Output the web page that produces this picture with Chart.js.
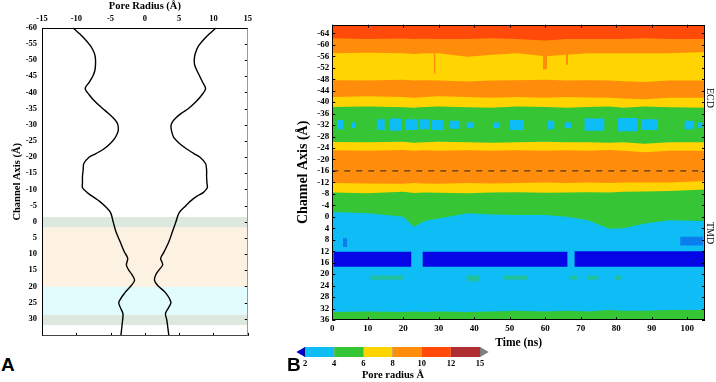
<!DOCTYPE html>
<html><head><meta charset="utf-8">
<script src="https://cdn.jsdelivr.net/npm/chart.js@4.4.1/dist/chart.umd.min.js"></script>
<style>
html,body{margin:0;padding:0;background:#fff;}
body{width:716px;height:382px;overflow:hidden;position:relative;}
canvas{position:absolute;display:block;}
.panel{position:absolute;font-family:"Liberation Sans",Arial,sans-serif;font-weight:bold;font-size:19px;line-height:19px;color:#000;}
.side{position:absolute;font-family:"Liberation Serif","Times New Roman",serif;font-size:10px;line-height:10px;writing-mode:vertical-rl;white-space:nowrap;color:#000;}
</style></head><body>
<canvas id="cA" width="256" height="346" style="left:0;top:0"></canvas>
<canvas id="cB" width="425" height="350" style="left:285px;top:0"></canvas>
<canvas id="cC" width="194" height="35" style="left:296px;top:347px"></canvas>
<div class="panel" style="left:1px;top:355px">A</div>
<div class="panel" style="left:287px;top:355px">B</div>
<div class="side" style="left:705px;top:88px">ECD</div>
<div class="side" style="left:705px;top:222px">TMD</div>
<script>
// ---------- Panel A data ----------
const PROFILE_Z = [-60,-57.3,-54.3,-52,-50.2,-48.5,-46.7,-45,-43.2,-41.2,
  -39.2,-37,-35.1,-33.5,-32.1,-30.8,-29.6,-28,-26.1,-24.3,
  -22.5,-21,-20,-18,-16,-14,-12,-10.5,-9,-7.9,
  -6.3,-4.8,-2.8,0.2,3.2,6.2,9.3,11.3,13.3,14.8,
  16.3,18.1,19.8,21.9,24.9,26.4,28.4,30.4,35.3];
const RADIUS_POS = [10.4,9.0,7.8,7.35,7.2,7.25,7.6,8.0,8.4,8.85,
  8.3,7.4,6.4,5.3,4.5,4.0,3.8,3.9,4.2,5.0,
  6.1,7.2,8.0,8.85,9.0,9.0,9.05,9.1,8.5,7.6,
  6.6,5.9,5.0,4.5,4.0,3.5,2.8,2.3,2.6,2.1,
  1.6,1.4,1.9,3.0,3.8,3.5,3.0,3.2,3.5];
const RADIUS_NEG = [-10.5,-9.1,-7.9,-7.35,-7.2,-7.2,-7.3,-7.6,-8.1,-8.7,
  -8.1,-7.2,-6.2,-5.3,-4.6,-4.1,-3.9,-3.9,-4.3,-5.0,
  -6.0,-7.2,-8.1,-8.9,-9.0,-9.1,-9.1,-9.1,-8.4,-7.7,
  -6.6,-5.8,-5.0,-4.6,-4.2,-3.6,-3.0,-2.5,-2.7,-2.4,
  -1.9,-1.5,-2.0,-2.9,-3.8,-3.6,-3.2,-3.25,-3.5];
const RADIUS_TICKS = [-15,-10,-5,0,5,10,15];
const AXIS_TICKS_A = [-60,-55,-50,-45,-40,-35,-30,-25,-20,-15,-10,-5,0,5,10,15,20,25,30];
const ZONE_FROM = [-1.5, 1.7, 20.1, 28.7];
const ZONE_TO = [1.7, 20.1, 28.7, 31.9];
const ZONE_COLORS = ['#dde8df', '#fdf1e2', '#e1fcfc', '#dde8df'];

// ---------- Panel B data ----------
const TIME = [0,10,20,23,26,30,38,45,52,60,66,72,78,82,88,95,105];
const TIME_TICKS = [0,10,20,30,40,50,60,70,80,90,100];
const CHANNEL_TICKS = [-64,-60,-56,-52,-48,-44,-40,-36,-32,-28,-24,-20,-16,-12,-8,-4,0,4,8,12,16,20,24,28,32,36];
const TOP_ORANGE_1 = [-62.3,-62,-62.2,-62,-62.1,-62,-62,-62.3,-62,-61.5,-62,-62,-62,-62,-62.3,-62,-62];
const TOP_YELLOW_1 = [-57,-57.2,-57,-56.8,-57,-57,-55.8,-56.5,-57,-56,-56.5,-57,-57,-57,-57,-57,-57.5];
const TOP_ORANGE_2 = [-47.6,-47.5,-47.8,-47.5,-47.6,-47.5,-47.2,-47.5,-47.6,-47.8,-47.5,-47.6,-47.5,-47.3,-47,-47.5,-47.5];
const TOP_YELLOW_2 = [-41.8,-42,-41.8,-41.5,-41.8,-42,-41.8,-41.5,-41.8,-41.5,-41.8,-41.6,-41.5,-41.3,-41,-41.5,-41.5];
const TOP_GREEN_1 = [-38.3,-38.5,-38.2,-38,-38.3,-38.5,-38.2,-38,-38.5,-38.3,-38,-38.3,-38.5,-38,-38.5,-38.2,-38];
const TOP_YELLOW_3 = [-26.1,-26,-26.2,-25.8,-26,-26.2,-26,-25.8,-26,-26.2,-26,-26,-25.8,-26,-25.5,-26,-26];
const TOP_ORANGE_3 = [-23.2,-23,-23.3,-23,-23.2,-23,-23.2,-23,-23.2,-23,-23.2,-23,-23.3,-23,-22.5,-23,-23];
const TOP_YELLOW_4 = [-11.8,-11.6,-11.5,-11.8,-11.6,-11.5,-11.8,-11.6,-11.8,-12,-11.8,-12,-11.8,-12,-12,-12,-12.5];
const TOP_GREEN_2 = [-8.5,-8.2,-8.7,-8.3,-8.5,-8.4,-8.2,-8.5,-8.6,-8.4,-8.5,-8.6,-8.5,-8.7,-8.8,-9,-9.5];
const TOP_CYAN = [-1.7,-1.2,0,3.5,1.5,0.6,-1.2,-0.8,-0.6,-0.6,0,1.2,4.2,4.0,2.3,1.2,1.5];
const TOP_GREEN_3 = [33.2,33,33.2,33,33.2,33,33.2,33,32.8,33,32.8,33,32.5,32.8,32.8,32.5,32.5];
const Y_MIN_B = -67, Y_MAX_B = 36, T_MAX = 105;
const DASH_LEVEL = -16;

const ORANGE_RED = '#ff4a0a', ORANGE = '#ff8c0a', YELLOW = '#ffd400', GREEN = '#35c535', CYAN = '#0ebdf5', BLUE = '#0505e6';

// [start ns, end ns, top Å, bottom Å]
const CYAN_POCKETS = [[1.3,3.1,-33.8,-30.5],[5.5,6.4,-33,-31],[12.5,14.8,-34,-30.3],[16.2,19.5,-34.3,-30],[20.5,24.2,-34,-30.3],[24.7,27.5,-34,-30.5],[28,31.2,-33.8,-30.3],[33.1,35.9,-33.5,-30.7],[37.8,39.7,-33,-31],[45.3,47.2,-33,-31],[50,54,-33.8,-30.3],[60.7,62.6,-33.5,-30.5],[65.4,67.3,-33,-31],[71,76.7,-34.3,-30],[80.4,86,-34.5,-29.8],[87,91.7,-34,-30.3],[99.2,102,-33.5,-30.5],[103,104.3,-33,-31]];
const BLUE_SEGMENTS = [[0.3,22.3,12.2,17.4],[25.4,66.3,12.2,17.4],[68.2,105,12.0,17.4]];
const BLUE_SPECKS = [[3,4.2,7.5,10.5],[98,104.5,7,10]];
const GREEN_SPECKS = [[10.7,20,20.5,22],[37.8,41.6,20.5,22.5],[48,55,20.5,22],[67,69,20.5,22],[72,75,20.5,22],[79.5,81.4,20.5,22]];
const ORANGE_STREAKS = [[28.6,29.1,-57,-50],[59.3,60.5,-57,-51.5],[65.8,66.4,-57,-53]];

// ---------- colorbar ----------
const COLORBAR_LABELS = ['2','4','6','8','10','12','15'];
const COLORBAR_COLORS = [CYAN, GREEN, YELLOW, ORANGE, ORANGE_RED, '#ae2e32'];
const UNDER_COLOR = '#0000cc', OVER_COLOR = '#808080';

const SERIF = '"Liberation Serif","Times New Roman",serif';
Chart.defaults.font.family = SERIF;
Chart.defaults.font.weight = 'bold';
Chart.defaults.color = '#000';
Chart.defaults.animation = false;

const frame = {
  id: 'frame',
  afterDatasetsDraw(chart, args, o) {
    const {ctx, chartArea: a} = chart;
    const xs = chart.scales.x, ys = chart.scales.y;
    const L = o.len || 3;
    ctx.save();
    ctx.lineWidth = 1;
    ctx.strokeStyle = '#000';
    ctx.beginPath();
    for (const t of xs.ticks) {
      const p = Math.round(xs.getPixelForValue(t.value)) + 0.5;
      if (o.sides.includes('t')) { ctx.moveTo(p, a.top); ctx.lineTo(p, a.top + L); }
      if (o.sides.includes('b')) { ctx.moveTo(p, a.bottom); ctx.lineTo(p, a.bottom - L); }
    }
    for (const t of ys.ticks) {
      const p = Math.round(ys.getPixelForValue(t.value)) + 0.5;
      if (o.sides.includes('l')) { ctx.moveTo(a.left, p); ctx.lineTo(a.left + L, p); }
      if (o.sides.includes('r')) { ctx.moveTo(a.right, p); ctx.lineTo(a.right - L, p); }
    }
    ctx.stroke();
    const l = Math.round(a.left) + 0.5, r = Math.round(a.right) - 0.5, tp = Math.round(a.top) + 0.5, bt = Math.round(a.bottom) - 0.5;
    const seg = (c, x1, y1, x2, y2) => { ctx.strokeStyle = c; ctx.beginPath(); ctx.moveTo(x1, y1); ctx.lineTo(x2, y2); ctx.stroke(); };
    seg(o.edges.top, l - 0.5, tp, r + 0.5, tp);
    seg(o.edges.bottom, l - 0.5, bt, r + 0.5, bt);
    seg(o.edges.left, l, tp, l, bt);
    seg(o.edges.right, r, tp, r, bt);
    ctx.restore();
  }
};

const noInteract = {legend: {display: false}, tooltip: {enabled: false}};

// ---------- Chart A ----------
new Chart(document.getElementById('cA'), {
  type: 'line',
  data: { datasets: [
    ...ZONE_FROM.map((lo, i) => ({data: [{x: -15, y: lo}, {x: 15, y: lo}], fill: {value: ZONE_TO[i]}, backgroundColor: ZONE_COLORS[i], borderWidth: 0, pointRadius: 0, order: 10})),
    {data: PROFILE_Z.map((z, i) => ({x: RADIUS_POS[i], y: z})), borderColor: '#000', borderWidth: 1.4, pointRadius: 0, tension: 0.3, fill: false, order: 0},
    {data: PROFILE_Z.map((z, i) => ({x: RADIUS_NEG[i], y: z})), borderColor: '#000', borderWidth: 1.4, pointRadius: 0, tension: 0.3, fill: false, order: 0}
  ]},
  options: {
    responsive: false, animation: false, events: [],
    layout: {autoPadding: false, padding: {left: 0, top: 0, right: 4, bottom: 3.3}},
    plugins: {...noInteract, frame: {len: 3, sides: 'br', edges: {top: '#000', left: '#000', bottom: '#444', right: '#999'}}},
    scales: {
      x: {type: 'linear', position: 'top', min: -15, max: 15,
          grid: {display: false, drawTicks: false}, border: {display: false},
          afterBuildTicks: s => { s.ticks = RADIUS_TICKS.map(v => ({value: v})); },
          afterFit: s => { s.height = 27.7; },
          ticks: {font: {size: 8.5}, padding: 4, maxRotation: 0, autoSkip: false},
          title: {display: true, text: 'Pore Radius (Å)', font: {size: 10.5}, padding: {top: 0, bottom: 0}}},
      y: {type: 'linear', reverse: true, min: -60, max: 35.3,
          grid: {display: false, drawTicks: false}, border: {display: false},
          afterBuildTicks: s => { s.ticks = AXIS_TICKS_A.map(v => ({value: v})); },
          afterFit: s => { s.width = 42; },
          ticks: {font: {size: 8.5}, padding: 5, autoSkip: false},
          title: {display: true, text: 'Channel Axis (Å)', font: {size: 10.5}, padding: {top: 10.5, bottom: 0}}}
    }
  },
  plugins: [frame]
});

// ---------- Chart B ----------
const REGION_TOPS = [TIME.map(() => Y_MIN_B), TOP_ORANGE_1, TOP_YELLOW_1, TOP_ORANGE_2, TOP_YELLOW_2, TOP_GREEN_1, TOP_YELLOW_3, TOP_ORANGE_3, TOP_YELLOW_4, TOP_GREEN_2, TOP_CYAN, TOP_GREEN_3];
const REGION_COLORS = [ORANGE_RED, ORANGE, YELLOW, ORANGE, YELLOW, GREEN, YELLOW, ORANGE, YELLOW, GREEN, CYAN, GREEN];
const patch = (p, color, order) => ({data: [{x: p[0], y: p[2]}, {x: p[1], y: p[2]}], fill: {value: p[3]}, backgroundColor: color, borderWidth: 0, pointRadius: 0, order});
const heatSets = [
  ...REGION_TOPS.map((arr, i) => ({data: TIME.map((t, j) => ({x: t, y: arr[j]})), fill: {value: Y_MAX_B}, backgroundColor: REGION_COLORS[i], borderWidth: 0, pointRadius: 0, order: 100 - i})),
  ...ORANGE_STREAKS.map(p => patch(p, ORANGE, 20)),
  ...CYAN_POCKETS.map(p => patch(p, CYAN, 20)),
  ...GREEN_SPECKS.map(p => patch(p, 'rgba(53,197,53,0.45)', 20)),
  ...BLUE_SPECKS.map(p => patch(p, 'rgba(5,5,230,0.35)', 20)),
  ...BLUE_SEGMENTS.map(p => patch(p, BLUE, 15)),
  {data: [{x: 0, y: DASH_LEVEL}, {x: T_MAX, y: DASH_LEVEL}], borderColor: '#222', borderWidth: 1, borderDash: [6, 6], pointRadius: 0, fill: false, order: 0}
];
new Chart(document.getElementById('cB'), {
  type: 'line',
  data: {datasets: heatSets},
  options: {
    responsive: false, animation: false, events: [],
    layout: {autoPadding: false, padding: {left: 0, top: 24.7, right: 5, bottom: 0}},
    plugins: {...noInteract, frame: {len: 3, sides: 'tblr', edges: {top: '#000', left: '#000', bottom: '#000', right: '#000'}}},
    scales: {
      x: {type: 'linear', min: 0, max: T_MAX,
          grid: {display: false, drawTicks: false}, border: {display: false},
          afterBuildTicks: s => { s.ticks = TIME_TICKS.map(v => ({value: v})); },
          afterFit: s => { s.height = 30; },
          ticks: {font: {size: 9}, padding: 3, maxRotation: 0, autoSkip: false},
          title: {display: true, text: 'Time (ns)', font: {size: 11.5}, padding: {top: 0, bottom: 0.5}}},
      y: {type: 'linear', reverse: true, min: Y_MIN_B, max: Y_MAX_B,
          grid: {display: false, drawTicks: false}, border: {display: false},
          afterBuildTicks: s => { s.ticks = CHANNEL_TICKS.map(v => ({value: v})); },
          afterFit: s => { s.width = 47.3; },
          ticks: {font: {size: 9}, padding: 3, autoSkip: false},
          title: {display: true, text: 'Channel Axis (Å)', font: {size: 14}, padding: {top: 9.6, bottom: 0}}}
    }
  },
  plugins: [frame]
});

// ---------- Colorbar ----------
const cbSets = [
  ...COLORBAR_COLORS.map((c, i) => ({data: [{x: i, y: 0}, {x: i + 1, y: 0}], fill: {value: 1}, backgroundColor: c, borderWidth: 0, pointRadius: 0})),
  ...COLORBAR_COLORS.slice(1).map((c, i) => ({data: [{x: i + 1, y: 0}, {x: i + 1, y: 1}], borderColor: 'rgba(30,30,30,0.55)', borderWidth: 0.8, pointRadius: 0, fill: false})),
  {data: [{x: 0, y: 0}, {x: COLORBAR_COLORS.length, y: 0}, {x: COLORBAR_COLORS.length, y: 1}, {x: 0, y: 1}, {x: 0, y: 0}], borderColor: 'rgba(30,30,30,0.45)', borderWidth: 0.8, pointRadius: 0, fill: false},
  {type: 'scatter', data: [{x: -0.1, y: 0.5}], pointStyle: 'triangle', pointRotation: -90, pointRadius: 5.77, pointBackgroundColor: UNDER_COLOR, pointBorderWidth: 0, clip: false},
  {type: 'scatter', data: [{x: COLORBAR_COLORS.length + 0.1, y: 0.5}], pointStyle: 'triangle', pointRotation: 90, pointRadius: 5.77, pointBackgroundColor: OVER_COLOR, pointBorderWidth: 0, clip: false}
];
new Chart(document.getElementById('cC'), {
  type: 'line',
  data: {datasets: cbSets},
  options: {
    responsive: false, animation: false, events: [],
    layout: {autoPadding: false, padding: 0},
    plugins: noInteract,
    scales: {
      x: {type: 'linear', min: -0.31, max: 6.34,
          grid: {display: false, drawTicks: false}, border: {display: false},
          afterBuildTicks: s => { s.ticks = COLORBAR_LABELS.map((_, i) => ({value: i})); },
          afterFit: s => { s.height = 25; },
          ticks: {callback: v => COLORBAR_LABELS[v], font: {size: 8.5}, padding: 2, autoSkip: false, maxRotation: 0},
          title: {display: true, text: 'Pore radius Å', font: {size: 10.5}, padding: {top: 0, bottom: 0}}},
      y: {type: 'linear', min: 0, max: 1, display: false}
    }
  }
});
</script>
</body></html>
